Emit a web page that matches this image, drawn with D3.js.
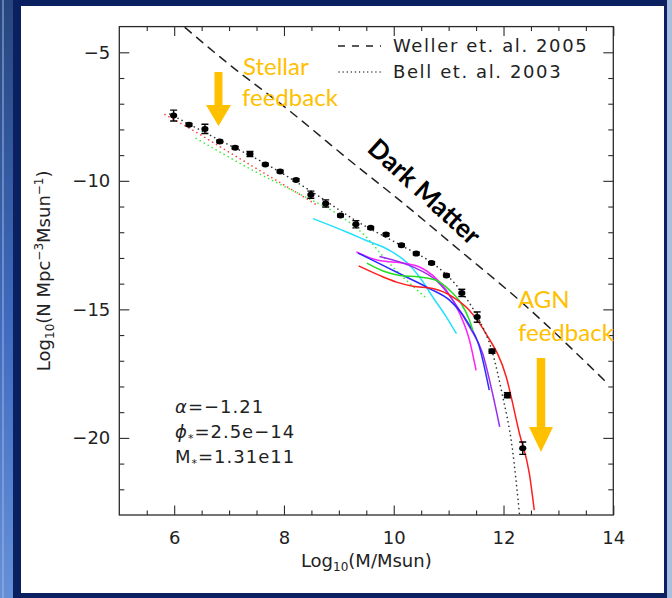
<!DOCTYPE html>
<html><head><meta charset="utf-8">
<script src="https://cdn.jsdelivr.net/npm/d3@7"></script>
<style>body{margin:0;background:#0b2060;} svg{display:block}</style>
</head><body>
<svg id="c" width="672" height="598"></svg>
<script>
// ---------- data (log10 values) ----------
const pointLogM   = [5.99,6.27,6.56,6.83,7.11,7.38,7.66,7.93,8.22,8.49,8.76,9.03,9.31,9.58,9.86,10.14,10.41,10.69,10.96,11.24,11.52,11.79,12.07,12.35];
const pointLogPhi = [-7.46,-7.82,-7.98,-8.47,-8.71,-8.96,-9.36,-9.64,-9.97,-10.54,-10.88,-11.35,-11.69,-11.83,-12.09,-12.51,-12.83,-13.20,-13.68,-14.36,-15.30,-16.63,-18.34,-20.40];
const pointErr    = [0.21,0.05,0.18,0.05,0.05,0.10,0.05,0.05,0.05,0.14,0.14,0.05,0.14,0.05,0.05,0.05,0.05,0.05,0.05,0.14,0.20,0.08,0.10,0.24];

const wellerDM = [[6.20,-4.04],[6.96,-5.40],[8.05,-7.19],[9.20,-9.21],[10.11,-10.76],[11.20,-12.70],[12.29,-14.65],[13.87,-17.83]];
const bellFit  = [[5.92,-7.40],[6.83,-8.42],[7.66,-9.33],[8.49,-10.40],[9.31,-11.55],[10.14,-12.52],[10.69,-13.18],[10.96,-13.65],[11.24,-14.33],[11.52,-15.27],[11.79,-16.62],[11.98,-18.34],[12.16,-20.40],[12.29,-22.95]];
const redDotted   = [[5.83,-7.42],[6.29,-7.97],[7.01,-8.90],[7.56,-9.60],[8.11,-10.30],[8.61,-10.96]];
const greenDotted = [[6.40,-8.35],[7.50,-9.67],[8.41,-10.65],[8.96,-11.27],[9.45,-12.08],[9.92,-13.21],[10.29,-13.99],[10.60,-14.57]];

const cyanModel    = [[8.53,-11.47],[9.14,-11.99],[9.50,-12.32],[9.92,-12.70],[10.23,-13.16],[10.47,-13.74],[10.71,-14.52],[10.96,-15.30],[11.14,-15.94]];
const magentaModel = [[9.32,-12.77],[9.68,-13.07],[10.23,-13.22],[10.47,-13.35],[10.71,-13.68],[10.96,-14.26],[11.20,-15.16],[11.38,-16.20],[11.50,-17.37]];
const purpleModel  = [[9.74,-12.94],[10.35,-13.35],[10.77,-13.87],[11.08,-14.65],[11.38,-15.68],[11.62,-16.72],[11.80,-18.27],[11.93,-19.57]];
const blueModel    = [[9.35,-12.81],[9.74,-13.22],[10.23,-13.74],[10.65,-14.19],[11.02,-14.65],[11.32,-15.42],[11.56,-16.46],[11.74,-18.14]];
const greenModel   = [[9.51,-13.20],[9.86,-13.55],[10.11,-13.68],[10.47,-13.74],[10.77,-13.87],[11.02,-14.26],[11.23,-14.78],[11.38,-15.42],[11.44,-15.81]];
const redModel     = [[9.36,-13.31],[9.74,-13.68],[10.05,-13.94],[10.35,-14.10],[10.71,-14.19],[11.08,-14.52],[11.38,-15.04],[11.68,-15.94],[12.05,-17.63],[12.29,-19.83],[12.47,-21.38],[12.56,-22.81]];

const xMajorTicks = [6,8,10,12,14];
const yMajorTicks = [-5,-10,-15,-20];
const legendLabels = ["Weller et. al. 2005","Bell et. al. 2003"];

// ---------- drawing ----------
const svg = d3.select("#c");
const defs = svg.append("defs");
const g1 = defs.append("linearGradient").attr("id","lg").attr("x1",0).attr("y1",0).attr("x2",0).attr("y2",1);
g1.append("stop").attr("offset","0").attr("stop-color","#27467f");
g1.append("stop").attr("offset","0.55").attr("stop-color","#3f6cc0");
g1.append("stop").attr("offset","1").attr("stop-color","#6590d8");

svg.append("rect").attr("width",672).attr("height",598).attr("fill","#0b2060");
svg.append("rect").attr("x",0).attr("y",0).attr("width",13).attr("height",598).attr("fill","url(#lg)");
svg.append("rect").attr("x",2).attr("y",0).attr("width",2).attr("height",598).attr("fill","#9fb8e0").attr("opacity",0.5);
svg.append("rect").attr("x",667).attr("y",0).attr("width",5).attr("height",598).attr("fill","#a9bedf");
svg.append("rect").attr("x",21).attr("y",6).attr("width",643).attr("height",587).attr("fill","#ffffff");

const X0=119.3, X1=613.3, Y0=515, Y1=26.6;
const x = d3.scaleLinear().domain([5,14]).range([X0,X1]);
const y = d3.scaleLinear().domain([-23,-4]).range([Y0,Y1]);

defs.append("clipPath").attr("id","clip").append("rect")
  .attr("x",X0).attr("y",Y1).attr("width",X1-X0).attr("height",Y0-Y1);

const axisColor = "#2a2a2a";
const font = "DejaVu Sans, sans-serif";

function styleAxis(sel){
  sel.select(".domain").remove();
  sel.selectAll(".tick line").attr("stroke",axisColor).attr("stroke-width",1.1);
  sel.selectAll(".tick text").attr("fill","#222").attr("font-family",font).attr("font-size",18);
}
const xMinor = d3.range(5.5,14,0.5).filter(v=>v%2!==0);
const yMinor = d3.range(-22,-4,1).filter(v=>v%5!==0);

svg.append("g").attr("transform",`translate(0,${Y0})`)
  .call(d3.axisBottom(x).tickValues(xMajorTicks).tickSize(-9.5).tickPadding(16).tickFormat(d3.format("d"))).call(styleAxis);
svg.append("g").attr("transform",`translate(0,${Y0})`)
  .call(d3.axisBottom(x).tickValues(xMinor).tickSize(-4.5).tickFormat("")).call(styleAxis);
svg.append("g").attr("transform",`translate(0,${Y1})`)
  .call(d3.axisTop(x).tickValues(xMajorTicks).tickSize(-9.5).tickFormat("")).call(styleAxis);
svg.append("g").attr("transform",`translate(0,${Y1})`)
  .call(d3.axisTop(x).tickValues(xMinor).tickSize(-4.5).tickFormat("")).call(styleAxis);
svg.append("g").attr("transform",`translate(${X0},0)`)
  .call(d3.axisLeft(y).tickValues(yMajorTicks).tickSize(-10).tickPadding(9).tickFormat(d3.format("d"))).call(styleAxis);
svg.append("g").attr("transform",`translate(${X0},0)`)
  .call(d3.axisLeft(y).tickValues(yMinor).tickSize(-5).tickFormat("")).call(styleAxis);
svg.append("g").attr("transform",`translate(${X1},0)`)
  .call(d3.axisRight(y).tickValues(yMajorTicks).tickSize(-10).tickFormat("")).call(styleAxis);
svg.append("g").attr("transform",`translate(${X1},0)`)
  .call(d3.axisRight(y).tickValues(yMinor).tickSize(-5).tickFormat("")).call(styleAxis);

svg.append("rect").attr("x",X0).attr("y",Y1).attr("width",X1-X0).attr("height",Y0-Y1)
  .attr("fill","none").attr("stroke",axisColor).attr("stroke-width",1.3);

// axis titles
const xt = svg.append("text").attr("x",(X0+X1)/2).attr("y",567).attr("text-anchor","middle")
  .attr("font-family",font).attr("font-size",18).attr("fill","#222");
xt.append("tspan").text("Log");
xt.append("tspan").attr("font-size",12).attr("dy",4).text("10");
xt.append("tspan").attr("dy",-4).text("(M/Msun)");

const yt = svg.append("text").attr("transform",`translate(50,${(Y0+Y1)/2}) rotate(-90)`).attr("text-anchor","middle")
  .attr("font-family",font).attr("font-size",18).attr("fill","#222");
yt.append("tspan").text("Log");
yt.append("tspan").attr("font-size",12).attr("dy",4).text("10");
yt.append("tspan").attr("dy",-4).text("(N Mpc");
yt.append("tspan").attr("font-size",12).attr("dy",-7).text("\u22123");
yt.append("tspan").attr("dy",7).text("Msun");
yt.append("tspan").attr("font-size",12).attr("dy",-7).text("\u22121");
yt.append("tspan").attr("dy",7).text(")");

// lines
const line = d3.line().x(d=>x(d[0])).y(d=>y(d[1])).curve(d3.curveMonotoneX);
const plot = svg.append("g").attr("clip-path","url(#clip)");
function drawLine(data,color,width,dash){
  plot.append("path").attr("d",line(data)).attr("fill","none").attr("stroke",color)
    .attr("stroke-width",width).attr("stroke-dasharray",dash||null).attr("stroke-linecap",dash?"round":"butt");
}
drawLine(wellerDM,"#222",1.5,"8,7");
drawLine(redDotted,"#ff3b3b",1.6,"0.1,4.5");
drawLine(greenDotted,"#33ee33",1.6,"0.1,4.5");
drawLine(cyanModel,"#22e0ff",1.5);
drawLine(magentaModel,"#ff22ff",1.5);
drawLine(purpleModel,"#9a2cf0",1.5);
drawLine(blueModel,"#2a2aff",1.5);
drawLine(greenModel,"#22dd22",1.5);
drawLine(redModel,"#ff1e1e",1.5);
drawLine(bellFit,"#333",1.6,"0.1,4.5");

// data points
const pts = plot.append("g");
pointLogM.forEach((m,i)=>{
  const px=x(m), py=y(pointLogPhi[i]), e=pointErr[i];
  const ya=y(pointLogPhi[i]+e), yb=y(pointLogPhi[i]-e);
  pts.append("line").attr("x1",px).attr("x2",px).attr("y1",ya).attr("y2",yb).attr("stroke","#000").attr("stroke-width",1.4);
  pts.append("line").attr("x1",px-3.5).attr("x2",px+3.5).attr("y1",ya).attr("y2",ya).attr("stroke","#000").attr("stroke-width",1.4);
  pts.append("line").attr("x1",px-3.5).attr("x2",px+3.5).attr("y1",yb).attr("y2",yb).attr("stroke","#000").attr("stroke-width",1.4);
  pts.append("ellipse").attr("cx",px).attr("cy",py).attr("rx",3.6).attr("ry",3).attr("fill","#000");
});

// legend
const lg = svg.append("g");
lg.append("line").attr("x1",338).attr("x2",381).attr("y1",46).attr("y2",46)
  .attr("stroke","#222").attr("stroke-width",1.3).attr("stroke-dasharray","7,7");
lg.append("line").attr("x1",339).attr("x2",381).attr("y1",72).attr("y2",72)
  .attr("stroke","#333").attr("stroke-width",1.4).attr("stroke-dasharray","0.1,4").attr("stroke-linecap","round");
legendLabels.forEach((t,i)=>{
  lg.append("text").attr("x",393).attr("y",52+i*26).text(t)
    .attr("font-family",font).attr("font-size",18).attr("letter-spacing",1.6).attr("fill","#222");
});

// fit parameters
const fitG = svg.append("g").attr("font-family",font).attr("font-size",18).attr("fill","#222").attr("letter-spacing",1);
const t1 = fitG.append("text").attr("x",175).attr("y",413);
t1.append("tspan").attr("font-style","italic").text("\u03B1");
t1.append("tspan").text("=\u22121.21");
const t2 = fitG.append("text").attr("x",175).attr("y",438);
t2.append("tspan").attr("font-style","italic").text("\u03D5");
t2.append("tspan").attr("font-size",11).attr("dy",4).text("*");
t2.append("tspan").attr("dy",-4).text("=2.5e\u221214");
const t3 = fitG.append("text").attr("x",175).attr("y",463);
t3.append("tspan").text("M");
t3.append("tspan").attr("font-size",11).attr("dy",4).text("*");
t3.append("tspan").attr("dy",-4).text("=1.31e11");

// annotations
const gold = "#ffc000";
const ann = svg.append("g").attr("font-family","Lato, sans-serif").attr("font-size",24).attr("fill",gold);
ann.append("text").attr("x",243).attr("y",75).text("Stellar");
ann.append("text").attr("x",242).attr("y",106).text("feedback");
ann.append("text").attr("x",518).attr("y",308).text("AGN");
ann.append("text").attr("x",518).attr("y",341).text("feedback");

function arrow(cx,top,neck,tip,shaftW,headW){
  svg.append("path").attr("fill",gold).attr("d",
    `M${cx-shaftW/2},${top}L${cx+shaftW/2},${top}L${cx+shaftW/2},${neck}L${cx+headW/2},${neck}L${cx},${tip}L${cx-headW/2},${neck}L${cx-shaftW/2},${neck}Z`);
}
arrow(218.5,72,105,126,8,25);
arrow(541,358,427,452,8.5,24);

svg.append("text").attr("transform","translate(425,191) rotate(42.5)").attr("text-anchor","middle")
  .attr("dominant-baseline","central").attr("font-family","Lato, sans-serif").attr("font-weight","bold")
  .attr("font-size",26).attr("fill","#000").text("Dark Matter");
</script>
</body></html>
